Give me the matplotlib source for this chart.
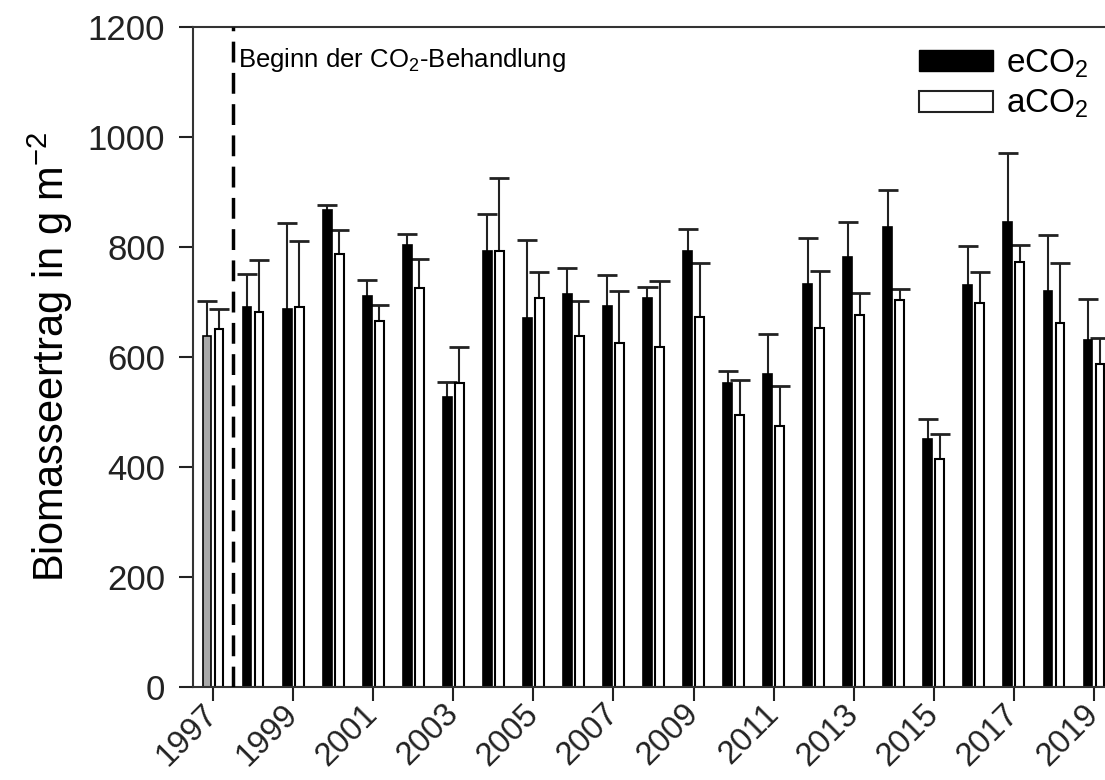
import matplotlib
matplotlib.use("Agg")
import matplotlib.pyplot as plt
from matplotlib.patches import Patch
import numpy as np

# values (g m^-2)
years = np.arange(1997, 2020)
eco2_mean = [638, 691, 687, 867, 710, 803, 527, 792, 670, 714, 693, 708, 793,
             552, 569, 733, 781, 837, 451, 730, 846, 720, 631]
eco2_sd = [64, 60, 157, 9, 30, 21, 28, 68, 143, 47, 56, 19, 40,
           23, 72, 83, 64, 66, 37, 71, 125, 102, 74]
aco2_mean = [651, 681, 690, 788, 665, 725, 552, 793, 708, 638, 625, 618, 673,
             495, 475, 653, 676, 704, 415, 699, 772, 661, 588]
aco2_sd = [37, 95, 120, 43, 29, 54, 66, 133, 46, 64, 95, 121, 98,
           64, 72, 103, 41, 19, 45, 56, 32, 109, 46]
tick_years = np.arange(1997, 2020, 2)
treatment_start = 1997.5

plt.rcParams['font.family'] = ['Liberation Sans', 'DejaVu Sans']
plt.rcParams['mathtext.fontset'] = 'custom'
plt.rcParams['mathtext.rm'] = 'Liberation Sans'
plt.rcParams['mathtext.it'] = 'Liberation Sans'

fig = plt.figure(figsize=(11.05, 7.8), dpi=100)
W, H = 1105, 780
ax = fig.add_axes([193 / W, 93 / H, (1112 - 193) / W, 660 / H])

bw = 0.22
off = 0.15
cap = 0.25
eco2_colors = ['#a8a8a8'] + ['black'] * (len(years) - 1)
ax.bar(years - off, eco2_mean, width=bw, color=eco2_colors, edgecolor='black',
       linewidth=1.2, zorder=2)
ax.bar(years + off, aco2_mean, width=bw, color='white', edgecolor='black',
       linewidth=1.5, zorder=2)

# upper error bars only
for xs, m, sd in [(years - off, eco2_mean, eco2_sd),
                  (years + off, aco2_mean, aco2_sd)]:
    top = np.array(m) + np.array(sd)
    ax.vlines(xs, m, top, color='#222222', linewidth=1.5, zorder=1)
    ax.hlines(top, xs - cap, xs + cap, color='#222222', linewidth=2, zorder=1)

ax.axvline(treatment_start, color='black', linestyle=(0, (6, 3)), linewidth=2.5,
           zorder=3)
ax.text(treatment_start + 0.13, 1140, 'Beginn der CO$_2$-Behandlung',
        fontsize=18.5, va='center', ha='left')

ax.set_xlim(1996.5, 2019.45)
ax.set_ylim(0, 1200)
ax.set_yticks(np.arange(0, 1201, 200))
ax.set_xticks(tick_years)
ax.set_xticklabels([str(y) for y in tick_years], rotation=45, ha='right',
                   va='center', rotation_mode='anchor', fontsize=23.5)
ax.tick_params(axis='y', labelsize=25, length=10, width=1.5, direction='out',
               colors='#222222', pad=10)
ax.tick_params(axis='x', length=10, width=1.5, direction='out', colors='#222222',
               pad=6)

for s in ['left', 'bottom', 'top', 'right']:
    ax.spines[s].set_color('#333333')
    ax.spines[s].set_linewidth(1.5)

ax.set_ylabel('Biomasseertrag in g m$^{-2}$', fontsize=30, labelpad=9)

handles = [Patch(facecolor='black', edgecolor='black', label='eCO$_2$'),
           Patch(facecolor='white', edgecolor='#222222', linewidth=1.5,
                 label='aCO$_2$')]
ax.legend(handles=handles, loc='upper right', bbox_to_anchor=(1112 / W, 1 - 24 / H),
          bbox_transform=fig.transFigure, frameon=False, fontsize=24,
          handlelength=2.2, handleheight=0.58, handletextpad=0.4,
          labelspacing=0.25, borderpad=0.2)

fig.savefig('out.png', dpi=100)
